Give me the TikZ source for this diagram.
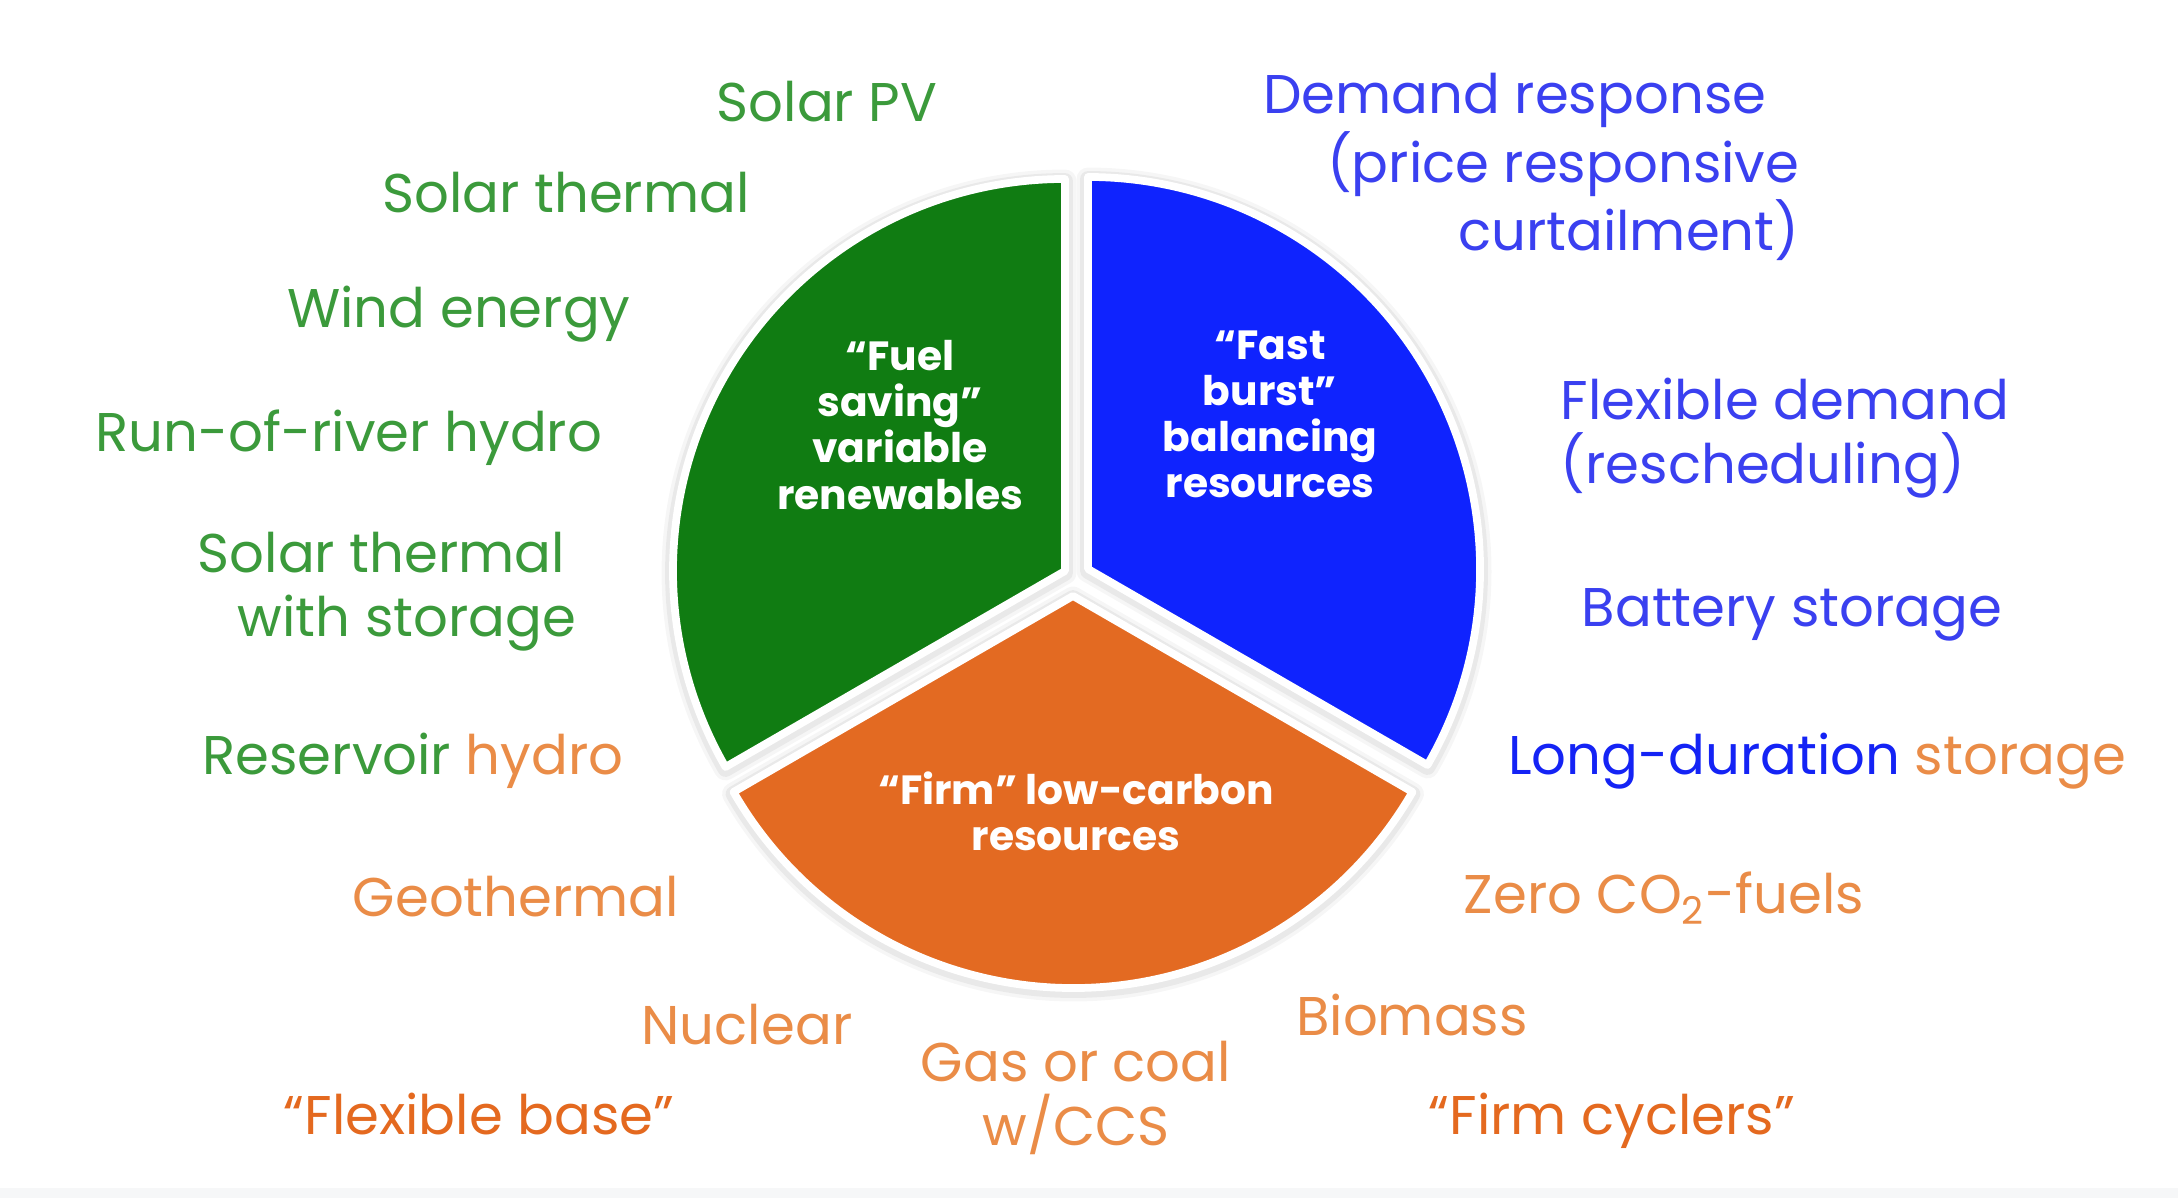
\documentclass[tikz,border=0pt]{standalone}
\usepackage{fontspec}
\setmainfont{Poppins}
\definecolor{slgreen}{RGB}{16,124,18}
\definecolor{slblue}{RGB}{15,35,254}
\definecolor{slorange}{RGB}{227,106,34}
\definecolor{txgreen}{RGB}{59,154,59}
\definecolor{txblue}{RGB}{58,64,240}
\definecolor{txbluedk}{RGB}{20,35,245}
\definecolor{txorange}{RGB}{234,140,71}
\definecolor{txorangedk}{RGB}{228,105,31}
\definecolor{bandgrey}{RGB}{246,247,248}
\begin{document}
\begin{tikzpicture}[x=0.01cm,y=0.01cm,
  lbl/.style={font=\fontsize{15.5}{18.3}\selectfont, inner sep=0pt},
  lblone/.style={lbl, text depth=0pt},
  slicelbl/.style={font=\bfseries\fontsize{11.6}{13.1}\selectfont, text=white, align=center, inner sep=0pt},
  shade1/.style={draw=black, draw opacity=0.035, line width=6.5pt, line join=round},
  shade2/.style={draw=black, draw opacity=0.05, line width=4.5pt, line join=round},
  slicebox/.style={draw=white, line width=2.2pt, line join=round}]
\useasboundingbox (0,0) rectangle (2178,1198);
\fill[white] (0,0) rectangle (2178,1198);
\fill[bandgrey] (0,0) rectangle (2178,10);

% shadows
\foreach \s in {shade1,shade2}{
  \path[\s] (1065,625) -- +(0,392) arc[start angle=90,end angle=210,radius=392] -- cycle;
  \path[\s] (1088,627) -- +(-30:392) arc[start angle=-30,end angle=90,radius=392] -- cycle;
  \path[\s] (1073,600) -- +(210:392) arc[start angle=210,end angle=330,radius=392] -- cycle;
}
% slices
\path[slicebox, fill=slgreen] (1065,627) -- +(0,392) arc[start angle=90,end angle=210,radius=392] -- cycle;
\path[slicebox, fill=slblue] (1088,629) -- +(-30:392) arc[start angle=-30,end angle=90,radius=392] -- cycle;
\path[slicebox, fill=slorange] (1073,602) -- +(210:392) arc[start angle=210,end angle=330,radius=392] -- cycle;

% slice labels
\node[slicelbl] (fuel) at (900,773) {“Fuel\\saving”\\variable\\renewables};
\node[slicelbl] (fast) at (1270,784) {“Fast\\burst”\\balancing\\resources};
\node[slicelbl] (firm) at (1076,387) {“Firm” low-carbon\\resources};

% green labels
\node[lblone, text=txgreen] (spv) at (827,1097) {Solar PV};
\node[lblone, text=txgreen] (sth) at (566,1006) {Solar thermal};
\node[lblone, text=txgreen] (wind) at (459,891) {Wind energy};
\node[lblone, text=txgreen] (ror) at (349,767) {Run-of-river hydro};
\node[lbl, text=txgreen, align=left] (sths) at (387,606) {Solar thermal\\\hspace*{0.4cm}with storage};
\node[lblone, text=txgreen] (res) at (413,444) {Reservoir \textcolor{txorange}{hydro}};

% orange labels
\node[lblone, text=txorange] (geo) at (516,302) {Geothermal};
\node[lblone, text=txorange] (nuc) at (747,174) {Nuclear};
\node[lblone, text=txorangedk] (flex) at (479,84) {“Flexible base”};
\node[lbl, text=txorange, align=center] (gas) at (1076,100) {Gas or coal\\w/CCS};
\node[lblone, text=txorange] (bio) at (1412,183) {Biomass};
\node[lblone, text=txorangedk] (cyc) at (1612,84) {“Firm cyclers”};
\node[lblone, text=txorange] (zero) at (1664,305) {Zero CO\textsubscript{2}-fuels};

% blue labels
\node[lblone, text=txbluedk] (ldur) at (1817,444) {Long-duration \textcolor{txorange}{storage}};
\node[lblone, text=txblue] (bat) at (1792,590) {Battery storage};
\node[lbl, text=txblue, align=left, anchor=west] (fdem) at (1560,760) {Flexible demand\\(rescheduling)};
\node[lbl, text=txblue, align=right, anchor=east] (dres) at (1800,1031) {Demand response\hspace*{0.33cm}\\(price responsive\\curtailment)};
\end{tikzpicture}
\end{document}
